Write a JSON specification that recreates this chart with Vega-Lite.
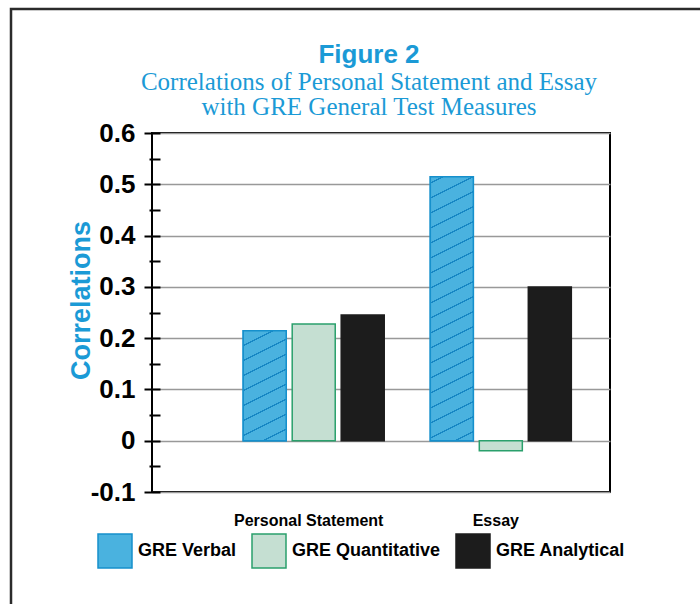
{
  "$schema": "https://vega.github.io/schema/vega-lite/v6.json",
  "autosize": {"type": "none"},
  "padding": {"left": 152, "top": 133, "right": 90, "bottom": 112},
  "width": 458,
  "height": 359,
  "background": "#ffffff",
  "title": {
    "text": "Figure 2",
    "subtitle": ["Correlations of Personal Statement and Essay", "with GRE General Test Measures"],
    "anchor": "middle",
    "dx": -12,
    "offset": -112,
    "font": "Liberation Sans",
    "fontSize": 26,
    "fontWeight": "bold",
    "color": "#1b9ad6",
    "subtitleFont": "Liberation Serif",
    "subtitleFontSize": 25,
    "subtitleColor": "#1b9ad6",
    "subtitleLineHeight": 25,
    "subtitlePadding": 2
  },
  "data": {
    "values": [
      {"measure": "Personal Statement", "test": "GRE Verbal", "r": 0.2144},
      {"measure": "Personal Statement", "test": "GRE Quantitative", "r": 0.2275},
      {"measure": "Personal Statement", "test": "GRE Analytical", "r": 0.245},
      {"measure": "Essay", "test": "GRE Verbal", "r": 0.5146},
      {"measure": "Essay", "test": "GRE Quantitative", "r": -0.0195},
      {"measure": "Essay", "test": "GRE Analytical", "r": 0.2996}
    ]
  },
  "encoding": {
    "x": {
      "field": "measure",
      "type": "nominal",
      "sort": ["Personal Statement", "Essay"],
      "scale": {"domain": ["Personal Statement", "Essay"], "paddingInner": 0.2143, "paddingOuter": 0.3311, "align": 0.712},
      "axis": {"title": null, "domain": false, "ticks": false, "grid": false, "labelAngle": 0, "labelFont": "Liberation Sans", "labelFontSize": 16, "labelFontWeight": "bold", "labelColor": "#000", "labelPadding": 20, "labelOffset": -5}
    },
    "xOffset": {
      "field": "test",
      "type": "nominal",
      "scale": {"domain": ["GRE Verbal", "GRE Quantitative", "GRE Analytical"], "paddingInner": 0.122, "paddingOuter": 0.061}
    },
    "y": {
      "field": "r",
      "type": "quantitative",
      "scale": {"domain": [-0.1, 0.6], "nice": false, "zero": false},
      "axis": {
        "title": "Correlations",
        "titleFont": "Liberation Sans",
        "titleColor": "#1b9ad6",
        "titleFontSize": 27,
        "titleFontWeight": "bold",
        "titlePadding": -5,
        "titleY": 167,
        "values": [-0.1, -0.05, 0, 0.05, 0.1, 0.15, 0.2, 0.25, 0.3, 0.35, 0.4, 0.45, 0.5, 0.55, 0.6],
        "labelExpr": "abs(round(datum.value*20)%2)==1 ? '' : (datum.value==0 ? '0' : replace(format(datum.value,'.1f'),'\u2212','-'))",
        "labelFont": "Liberation Sans",
        "labelFontSize": 26,
        "labelFontWeight": "bold",
        "labelColor": "#000",
        "labelPadding": 9,
        "offset": -8,
        "domain": false,
        "tickColor": "#000",
        "tickWidth": 2,
        "tickSize": {"condition": {"test": "abs(round(datum.value*20)%2)==1", "value": 11}, "value": 16},
        "grid": true,
        "gridColor": "#999999",
        "gridWidth": 1.5,
        "gridOpacity": {"condition": {"test": "abs(round(datum.value*20)%2)==1", "value": 0}, "value": 1}
      }
    }
  },
  "layer": [
    {
      "mark": {"type": "bar", "strokeWidth": 1.5},
      "encoding": {
        "fill": {
          "field": "test",
          "type": "nominal",
          "scale": {"domain": ["GRE Verbal", "GRE Quantitative", "GRE Analytical"], "range": ["#4ab2df", "#c5dfd2", "#1c1c1c"]},
          "legend": {
            "orient": "none",
            "legendX": -141,
            "legendY": -124,
            "direction": "horizontal",
            "title": " ",
            "titleFontSize": 10,
            "titlePadding": 428,
            "padding": 86,
            "strokeColor": "#2b2b2b",
            "symbolType": "square",
            "symbolSize": 1156,
            "symbolStrokeWidth": 1.5,
            "symbolOpacity": 1,
            "labelFont": "Liberation Sans",
            "labelFontSize": 18,
            "labelFontWeight": "bold",
            "labelColor": "#000",
            "labelOffset": 5,
            "labelLimit": 300,
            "columnPadding": 12,
            "encode": {
              "legend": {"update": {"strokeWidth": {"value": 2.5}}}
            }
          }
        },
        "stroke": {
          "field": "test",
          "type": "nominal",
          "scale": {"domain": ["GRE Verbal", "GRE Quantitative", "GRE Analytical"], "range": ["#1690cc", "#2aa06c", "#1c1c1c"]}
        }
      }
    },
    {
      "transform": [{"filter": "datum.test === 'GRE Verbal' && datum.measure === 'Personal Statement'"}],
      "mark": {
        "type": "bar",
        "stroke": "#1690cc",
        "strokeWidth": 1.5,
        "fill": {
          "gradient": "linear", "x1": 0, "y1": 0, "x2": 0.2251, "y2": 1.1517,
          "stops": [
            {"offset": 0, "color": "#4ab2df"},
            {"offset": 0.1087, "color": "#4ab2df"}, {"offset": 0.1087, "color": "#1787c4"}, {"offset": 0.1197, "color": "#1787c4"}, {"offset": 0.1197, "color": "#4ab2df"},
            {"offset": 0.2228, "color": "#4ab2df"}, {"offset": 0.2228, "color": "#1787c4"}, {"offset": 0.2338, "color": "#1787c4"}, {"offset": 0.2338, "color": "#4ab2df"},
            {"offset": 0.3369, "color": "#4ab2df"}, {"offset": 0.3369, "color": "#1787c4"}, {"offset": 0.3479, "color": "#1787c4"}, {"offset": 0.3479, "color": "#4ab2df"},
            {"offset": 0.451, "color": "#4ab2df"}, {"offset": 0.451, "color": "#1787c4"}, {"offset": 0.462, "color": "#1787c4"}, {"offset": 0.462, "color": "#4ab2df"},
            {"offset": 0.5651, "color": "#4ab2df"}, {"offset": 0.5651, "color": "#1787c4"}, {"offset": 0.5761, "color": "#1787c4"}, {"offset": 0.5761, "color": "#4ab2df"},
            {"offset": 0.6792, "color": "#4ab2df"}, {"offset": 0.6792, "color": "#1787c4"}, {"offset": 0.6902, "color": "#1787c4"}, {"offset": 0.6902, "color": "#4ab2df"},
            {"offset": 0.7933, "color": "#4ab2df"}, {"offset": 0.7933, "color": "#1787c4"}, {"offset": 0.8043, "color": "#1787c4"}, {"offset": 0.8043, "color": "#4ab2df"},
            {"offset": 0.9074, "color": "#4ab2df"}, {"offset": 0.9074, "color": "#1787c4"}, {"offset": 0.9184, "color": "#1787c4"}, {"offset": 0.9184, "color": "#4ab2df"},
            {"offset": 1, "color": "#4ab2df"}
          ]
        }
      },
      "encoding": {}
    },
    {
      "transform": [{"filter": "datum.test === 'GRE Verbal' && datum.measure === 'Essay'"}],
      "mark": {
        "type": "bar",
        "stroke": "#1690cc",
        "strokeWidth": 1.5,
        "fill": {
          "gradient": "linear", "x1": 0, "y1": 0, "x2": 0.0875, "y2": 1.0743,
          "stops": [
            {"offset": 0, "color": "#4ab2df"},
            {"offset": 0.02, "color": "#4ab2df"}, {"offset": 0.02, "color": "#1787c4"}, {"offset": 0.025, "color": "#1787c4"}, {"offset": 0.025, "color": "#4ab2df"},
            {"offset": 0.0725, "color": "#4ab2df"}, {"offset": 0.0725, "color": "#1787c4"}, {"offset": 0.0775, "color": "#1787c4"}, {"offset": 0.0775, "color": "#4ab2df"},
            {"offset": 0.1251, "color": "#4ab2df"}, {"offset": 0.1251, "color": "#1787c4"}, {"offset": 0.1301, "color": "#1787c4"}, {"offset": 0.1301, "color": "#4ab2df"},
            {"offset": 0.1776, "color": "#4ab2df"}, {"offset": 0.1776, "color": "#1787c4"}, {"offset": 0.1826, "color": "#1787c4"}, {"offset": 0.1826, "color": "#4ab2df"},
            {"offset": 0.2302, "color": "#4ab2df"}, {"offset": 0.2302, "color": "#1787c4"}, {"offset": 0.2352, "color": "#1787c4"}, {"offset": 0.2352, "color": "#4ab2df"},
            {"offset": 0.2827, "color": "#4ab2df"}, {"offset": 0.2827, "color": "#1787c4"}, {"offset": 0.2877, "color": "#1787c4"}, {"offset": 0.2877, "color": "#4ab2df"},
            {"offset": 0.3352, "color": "#4ab2df"}, {"offset": 0.3352, "color": "#1787c4"}, {"offset": 0.3402, "color": "#1787c4"}, {"offset": 0.3402, "color": "#4ab2df"},
            {"offset": 0.3878, "color": "#4ab2df"}, {"offset": 0.3878, "color": "#1787c4"}, {"offset": 0.3928, "color": "#1787c4"}, {"offset": 0.3928, "color": "#4ab2df"},
            {"offset": 0.4403, "color": "#4ab2df"}, {"offset": 0.4403, "color": "#1787c4"}, {"offset": 0.4453, "color": "#1787c4"}, {"offset": 0.4453, "color": "#4ab2df"},
            {"offset": 0.4929, "color": "#4ab2df"}, {"offset": 0.4929, "color": "#1787c4"}, {"offset": 0.4979, "color": "#1787c4"}, {"offset": 0.4979, "color": "#4ab2df"},
            {"offset": 0.5454, "color": "#4ab2df"}, {"offset": 0.5454, "color": "#1787c4"}, {"offset": 0.5504, "color": "#1787c4"}, {"offset": 0.5504, "color": "#4ab2df"},
            {"offset": 0.5979, "color": "#4ab2df"}, {"offset": 0.5979, "color": "#1787c4"}, {"offset": 0.6029, "color": "#1787c4"}, {"offset": 0.6029, "color": "#4ab2df"},
            {"offset": 0.6505, "color": "#4ab2df"}, {"offset": 0.6505, "color": "#1787c4"}, {"offset": 0.6555, "color": "#1787c4"}, {"offset": 0.6555, "color": "#4ab2df"},
            {"offset": 0.703, "color": "#4ab2df"}, {"offset": 0.703, "color": "#1787c4"}, {"offset": 0.708, "color": "#1787c4"}, {"offset": 0.708, "color": "#4ab2df"},
            {"offset": 0.7556, "color": "#4ab2df"}, {"offset": 0.7556, "color": "#1787c4"}, {"offset": 0.7606, "color": "#1787c4"}, {"offset": 0.7606, "color": "#4ab2df"},
            {"offset": 0.8081, "color": "#4ab2df"}, {"offset": 0.8081, "color": "#1787c4"}, {"offset": 0.8131, "color": "#1787c4"}, {"offset": 0.8131, "color": "#4ab2df"},
            {"offset": 0.8606, "color": "#4ab2df"}, {"offset": 0.8606, "color": "#1787c4"}, {"offset": 0.8656, "color": "#1787c4"}, {"offset": 0.8656, "color": "#4ab2df"},
            {"offset": 0.9132, "color": "#4ab2df"}, {"offset": 0.9132, "color": "#1787c4"}, {"offset": 0.9182, "color": "#1787c4"}, {"offset": 0.9182, "color": "#4ab2df"},
            {"offset": 0.9657, "color": "#4ab2df"}, {"offset": 0.9657, "color": "#1787c4"}, {"offset": 0.9707, "color": "#1787c4"}, {"offset": 0.9707, "color": "#4ab2df"},
            {"offset": 1, "color": "#4ab2df"}
          ]
        }
      },
      "encoding": {}
    }
  ],
  "config": {
    "view": {"stroke": "#000000", "strokeWidth": 2},
    "font": "Liberation Sans"
  }
}
